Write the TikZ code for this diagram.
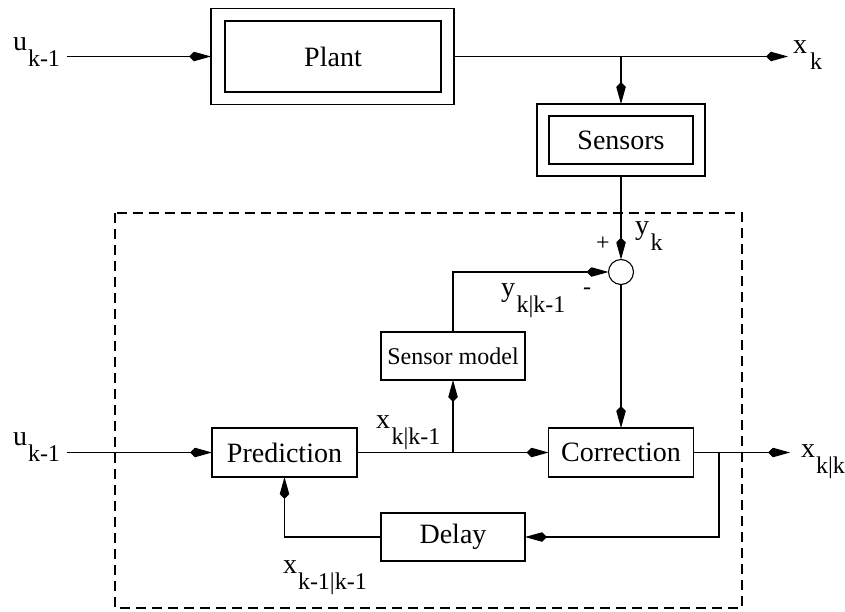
\documentclass[tikz,border=0pt]{standalone}
\usepackage{fontspec}
\setmainfont{Liberation Serif}
\usetikzlibrary{arrows.meta}
\newcommand{\subfont}{\fontsize{24}{24}\selectfont}
% main letter followed by a lowered index; optional kern between them
\newcommand{\lab}[3][1.5pt]{#2\kern#1\raisebox{-16pt}{\subfont #3}}
\tikzset{
  every node/.style={inner sep=0pt, outer sep=0pt},
  boxnode/.style={draw, line width=1.1pt, font=\fontsize{28}{28}\selectfont},
  smallbox/.style={draw, line width=1.1pt, font=\fontsize{24}{24}\selectfont},
  frame/.style={draw, line width=1.1pt},
  arr/.style={line width=1.1pt, -{Kite[length=22pt,width=9.5pt,inset=5pt]}},
  lbl/.style={anchor=base west, font=\fontsize{28}{28}\selectfont},
  sign/.style={font=\fontsize{24}{24}\selectfont},
}
\begin{document}
\begin{tikzpicture}[x=1pt,y=-1pt]
\useasboundingbox (0,0) rectangle (845,611);

% estimator boundary
\draw[line width=1.1pt, dash pattern=on 10pt off 6pt] (115,213) rectangle (742,608);

% plant and sensors (double framed)
\node[frame, minimum width=243pt, minimum height=96pt] (plant) at (332.5,56.5) {};
\node[boxnode, minimum width=216pt, minimum height=71pt] (plantin) at (333,56.5) {Plant};
\node[frame, minimum width=168pt, minimum height=72pt] (sensors) at (621,140) {};
\node[boxnode, minimum width=144pt, minimum height=48pt] (sensorsin) at (621,140) {Sensors};

% estimator blocks
\node[smallbox, minimum width=144pt, minimum height=48pt] (smodel) at (453,356) {Sensor model};
\node[boxnode, minimum width=145pt, minimum height=49pt] (pred) at (284.5,452.5) {Prediction};
\node[boxnode, minimum width=145pt, minimum height=49pt] (corr) at (621,452.5) {Correction};
\node[boxnode, minimum width=144pt, minimum height=48pt] (delay) at (453,537) {Delay};
\node[draw, line width=1.1pt, circle, minimum size=25pt] (sum) at (621,272) {};

% free ends and branch points
\coordinate (uin) at (67,56.5);
\coordinate (xk) at (788,56.5);
\coordinate (bt) at (621,56.5);
\coordinate (uin2) at (67,452.5);
\coordinate (bm) at (453,452.5);
\coordinate (xkk) at (790,452.5);
\coordinate (br) at (719,452.5);

% connectors
\draw[arr] (uin) -- (plant.west);
\draw[arr] (plant.east) -- (xk);
\draw[arr] (bt) -- (sensors.north);
\draw[arr] (sensors.south) -- (sum.north);
\draw[arr] (smodel.north) |- (sum.west);
\draw[arr] (sum.south) -- (corr.north);
\draw[arr] (uin2) -- (pred.west);
\draw[arr] (pred.east) -- (corr.west);
\draw[arr] (bm) -- (smodel.south);
\draw[arr] (corr.east) -- (xkk);
\draw[arr] (br) |- (delay.east);
\draw[arr] (delay.west) -| (pred.south);

% signal labels
\node[lbl] (lu1) at (13,50) {\lab[1pt]{u}{k-1}};
\node[lbl] (lxk) at (793,53) {\lab[3pt]{x}{k}};
\node[lbl] (lyk) at (635,234) {\lab{y}{k}};
\node[lbl] (lykk) at (501,296) {\lab{y}{k|k-1}};
\node[lbl] (lxkk1) at (376,428) {\lab{x}{k|k-1}};
\node[lbl] (lu2) at (13,445) {\lab[1pt]{u}{k-1}};
\node[lbl] (lxkk) at (801,457) {\lab[1pt]{x}{k|k}};
\node[lbl] (lxk1) at (283,573) {\lab[1pt]{x}{k-1|k-1}};
\node[sign] (plus) at (603,244) {+};
\node[sign] (minus) at (587,291) {-};
\end{tikzpicture}
\end{document}
